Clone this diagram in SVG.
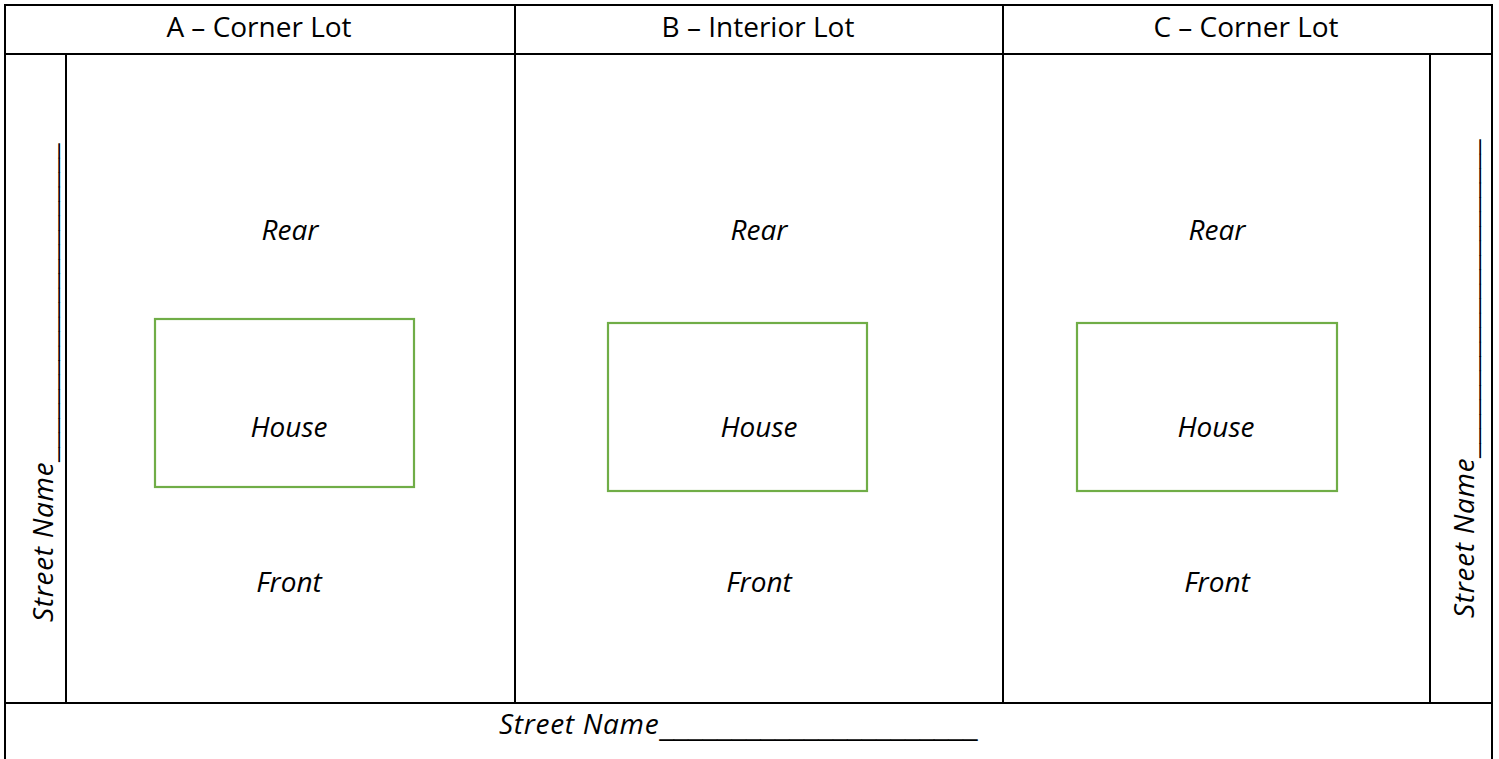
<svg xmlns="http://www.w3.org/2000/svg" width="1499" height="759" viewBox="0 0 1499 759">
<style>
.ln{stroke:#000;stroke-width:2;fill:none}
.house{fill:none;stroke:#70AD47;stroke-width:2.2}
.t{font-family:"Open Sans","Noto Sans",sans-serif;font-size:28px;fill:#000}
.h{font-size:28px}
.i{font-style:italic}
.m{text-anchor:middle}
.s{letter-spacing:0.7px}
.u{font-family:"Liberation Sans",Arial,sans-serif;font-style:normal;font-size:26px;letter-spacing:0}
</style>
<rect width="1499" height="759" fill="#fff"/>
<g id="grid">
<line class="ln" x1="5" y1="5" x2="1492" y2="5"/>
<line class="ln" x1="5" y1="54" x2="1492" y2="54"/>
<line class="ln" x1="5" y1="703" x2="1492" y2="703"/>
<line class="ln" x1="5" y1="4" x2="5" y2="760"/>
<line class="ln" x1="1492" y1="4" x2="1492" y2="760"/>
<line class="ln" x1="515" y1="5" x2="515" y2="703"/>
<line class="ln" x1="1003" y1="5" x2="1003" y2="703"/>
<line class="ln" x1="66" y1="54" x2="66" y2="703"/>
<line class="ln" x1="1430" y1="54" x2="1430" y2="703"/>
</g>
<g id="lotA">
<text class="t h m" x="259" y="37">A – Corner Lot</text>
<text class="t i m" x="290" y="240">Rear</text>
<text class="t i m" x="289" y="592">Front</text>
</g>
<g id="houseA">
<rect class="house" x="155" y="319" width="259" height="168"/>
<text class="t i m" x="289" y="437">House</text>
</g>
<g id="lotB">
<text class="t h m" x="758" y="37">B – Interior Lot</text>
<text class="t i m" x="759" y="240">Rear</text>
<text class="t i m" x="759" y="592">Front</text>
</g>
<g id="houseB">
<rect class="house" x="608" y="323" width="259" height="168"/>
<text class="t i m" x="759" y="437">House</text>
</g>
<g id="lotC">
<text class="t h m" x="1246" y="37">C – Corner Lot</text>
<text class="t i m" x="1217" y="240">Rear</text>
<text class="t i m" x="1217" y="592">Front</text>
</g>
<g id="houseC">
<rect class="house" x="1077" y="323" width="260" height="168"/>
<text class="t i m" x="1216" y="437">House</text>
</g>
<g id="streetLeft">
<text class="t i s" transform="translate(53,622) rotate(-90)">Street Name<tspan class="u" dy="2">______________________</tspan></text>
</g>
<g id="streetRight">
<text class="t i s" transform="translate(1474,618) rotate(-90)">Street Name<tspan class="u" dy="2">______________________</tspan></text>
</g>
<g id="streetBottom">
<text class="t i s" x="499" y="734">Street Name<tspan class="u" dy="2">______________________</tspan></text>
</g>
</svg>
